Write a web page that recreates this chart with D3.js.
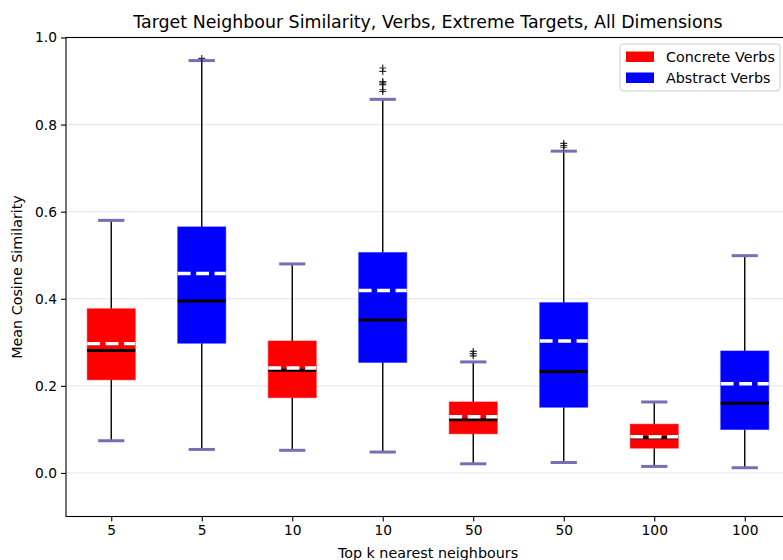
<!DOCTYPE html>
<html>
<head>
<meta charset="utf-8">
<script src="https://cdn.jsdelivr.net/npm/d3@7"></script>
<style>
  html, body { margin: 0; padding: 0; background: #fff; }
  svg { display: block; font-family: "DejaVu Sans", sans-serif; }
</style>
</head>
<body>
<svg id="chart" width="783" height="560"></svg>
<script>
// Box-plot summaries, one entry per box (left to right)
const tickLabels = ["5", "5", "10", "10", "50", "50", "100", "100"];
const groups = ["Concrete Verbs", "Abstract Verbs", "Concrete Verbs", "Abstract Verbs",
                "Concrete Verbs", "Abstract Verbs", "Concrete Verbs", "Abstract Verbs"];
const whiskerLow  = [0.074, 0.054, 0.052, 0.048, 0.021, 0.024, 0.015, 0.012];
const q1          = [0.214, 0.298, 0.173, 0.254, 0.090, 0.151, 0.057, 0.100];
const medians     = [0.281, 0.395, 0.236, 0.351, 0.122, 0.233, 0.081, 0.160];
const means       = [0.297, 0.458, 0.241, 0.419, 0.129, 0.303, 0.083, 0.205];
const q3          = [0.377, 0.565, 0.303, 0.506, 0.163, 0.391, 0.112, 0.280];
const whiskerHigh = [0.580, 0.947, 0.480, 0.858, 0.255, 0.739, 0.163, 0.499];
const outliers    = [[], [0.952], [], [0.930, 0.922, 0.899, 0.896, 0.892, 0.880, 0.876],
                     [0.279, 0.274, 0.269], [0.757, 0.752, 0.748], [], []];
const legendGroups = ["Concrete Verbs", "Abstract Verbs"];
const groupColors  = ["#ff0000", "#0000ff"];
const yTicks = [0.0, 0.2, 0.4, 0.6, 0.8, 1.0];

const svg = d3.select("#chart");
const plotLeft = 66, plotRight = 790, plotTop = 37.5, plotBottom = 516.5;
const fontSize = "14.3px";

const x = d3.scaleLinear().domain([0.5, 8.5]).range([plotLeft, plotRight]);
const y = d3.scaleLinear().domain([-0.1, 1.0]).range([plotBottom, plotTop]);
const color = d3.scaleOrdinal().domain(legendGroups).range(groupColors);

const step = x(2) - x(1);
const boxW = step * 0.53;
const capW = step * 0.29;

// Horizontal grid
svg.append("g").selectAll("line").data(yTicks).join("line")
  .attr("x1", plotLeft).attr("x2", plotRight)
  .attr("y1", d => y(d)).attr("y2", d => y(d))
  .attr("stroke", "#e5e5e5").attr("stroke-width", 1);

const data = tickLabels.map((t, i) => ({
  i, pos: i + 1, label: t, group: groups[i],
  lo: whiskerLow[i], q1: q1[i], med: medians[i], mean: means[i], q3: q3[i], hi: whiskerHigh[i],
  out: outliers[i]
}));

const box = svg.append("g").selectAll("g").data(data).join("g");

// Whiskers
box.append("line")
  .attr("x1", d => x(d.pos)).attr("x2", d => x(d.pos))
  .attr("y1", d => y(d.q3)).attr("y2", d => y(d.hi))
  .attr("stroke", "#000").attr("stroke-width", 1.4);
box.append("line")
  .attr("x1", d => x(d.pos)).attr("x2", d => x(d.pos))
  .attr("y1", d => y(d.q1)).attr("y2", d => y(d.lo))
  .attr("stroke", "#000").attr("stroke-width", 1.4);

// Boxes
box.append("rect")
  .attr("x", d => x(d.pos) - boxW / 2)
  .attr("width", boxW)
  .attr("y", d => y(d.q3))
  .attr("height", d => y(d.q1) - y(d.q3))
  .attr("fill", d => color(d.group))
  .attr("stroke", d => color(d.group)).attr("stroke-opacity", 0.6).attr("stroke-width", 1);

// Caps
["hi", "lo"].forEach(k => {
  box.append("line")
    .attr("x1", d => x(d.pos) - capW / 2).attr("x2", d => x(d.pos) + capW / 2)
    .attr("y1", d => y(d[k])).attr("y2", d => y(d[k]))
    .attr("stroke", "#7570b3").attr("stroke-width", 3);
});

// Medians
box.append("line")
  .attr("x1", d => x(d.pos) - boxW / 2).attr("x2", d => x(d.pos) + boxW / 2)
  .attr("y1", d => y(d.med)).attr("y2", d => y(d.med))
  .attr("stroke", "#000").attr("stroke-width", 3);

// Means (dashed)
box.append("line")
  .attr("x1", d => x(d.pos) - boxW / 2).attr("x2", d => x(d.pos) + boxW / 2)
  .attr("y1", d => y(d.mean)).attr("y2", d => y(d.mean))
  .attr("stroke", "#fff").attr("stroke-width", 3.4)
  .attr("stroke-dasharray", "12.8 5.6");

// Outliers (+ markers)
box.each(function(d) {
  d3.select(this).selectAll("path.flier").data(d.out).join("path")
    .attr("class", "flier")
    .attr("d", v => {
      const cx = x(d.pos), cy = y(v), r = 3.5;
      return `M${cx - r},${cy}H${cx + r}M${cx},${cy - r}V${cy + r}`;
    })
    .attr("stroke", "#000").attr("stroke-opacity", 0.8).attr("stroke-width", 1.2).attr("fill", "none");
});

// Axes
const xAxis = d3.axisBottom(x).tickValues(d3.range(1, 9))
  .tickFormat(d => tickLabels[d - 1]).tickSize(5).tickPadding(4);
const gx = svg.append("g").attr("transform", `translate(0,${plotBottom})`).call(xAxis);
const yAxis = d3.axisLeft(y).tickValues(yTicks).tickFormat(d3.format(".1f")).tickSize(5).tickPadding(4);
const gy = svg.append("g").attr("transform", `translate(${plotLeft},0)`).call(yAxis);
[gx, gy].forEach(g => {
  g.select(".domain").remove();
  g.selectAll(".tick line").attr("stroke", "#000").attr("stroke-width", 1.1);
  g.selectAll(".tick text").attr("fill", "#000").style("font-size", "13.8px")
    .style("font-family", "DejaVu Sans, sans-serif");
});

// Spines
svg.append("rect")
  .attr("x", plotLeft).attr("y", plotTop).attr("width", plotRight - plotLeft).attr("height", plotBottom - plotTop)
  .attr("fill", "none").attr("stroke", "#000").attr("stroke-width", 1.1);

// Title and labels
svg.append("text").attr("x", (plotLeft + plotRight) / 2).attr("y", 27.5)
  .attr("text-anchor", "middle").style("font-size", "17.4px")
  .text("Target Neighbour Similarity, Verbs, Extreme Targets, All Dimensions");
svg.append("text").attr("x", (plotLeft + plotRight) / 2).attr("y", 557.5)
  .attr("text-anchor", "middle").style("font-size", fontSize)
  .text("Top k nearest neighbours");
svg.append("text").attr("transform", `translate(22,${(plotTop + plotBottom) / 2}) rotate(-90)`)
  .attr("text-anchor", "middle").style("font-size", fontSize)
  .text("Mean Cosine Similarity");

// Legend
const lg = svg.append("g").attr("transform", "translate(620,44)");
lg.append("rect").attr("width", 160).attr("height", 47).attr("rx", 3)
  .attr("fill", "#fff").attr("fill-opacity", 0.8).attr("stroke", "#d0d0d0");
legendGroups.forEach((g, i) => {
  lg.append("rect").attr("x", 6).attr("y", 7.5 + i * 21).attr("width", 28).attr("height", 10.5)
    .attr("fill", color(g));
  lg.append("text").attr("x", 46).attr("y", 18 + i * 21)
    .style("font-size", fontSize).text(g);
});
</script>
</body>
</html>
